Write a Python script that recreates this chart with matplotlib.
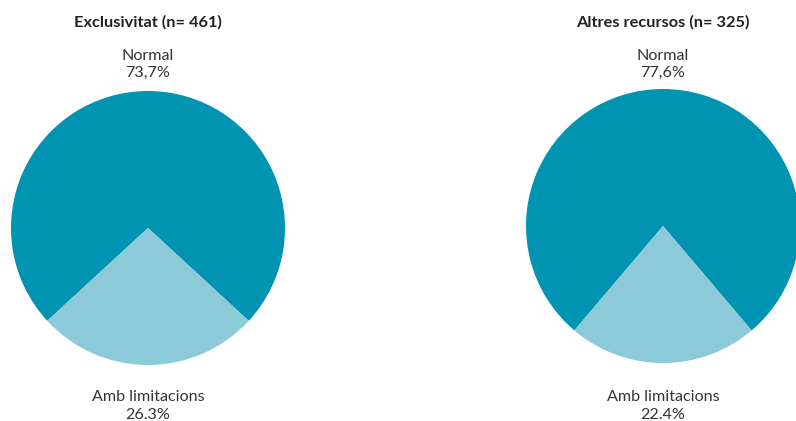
import matplotlib.pyplot as plt

plt.rcParams['font.family'] = ['Lato', 'DejaVu Sans']

titles = ["Exclusivitat (n= 461)", "Altres recursos (n= 325)"]
categories = ["Normal", "Amb limitacions"]
values = [[73.7, 26.3], [77.6, 22.4]]
# the reference mixes decimal comma and point
value_labels = [["73,7%", "26.3%"], ["77,6%", "22.4%"]]
colors = ["#0093b2", "#8cc9d9"]

W, H = 796, 421
fig = plt.figure(figsize=(W / 100, H / 100), dpi=100)

centers = [(148, 228), (663, 226)]
radius = 137

for i, (cx, cy) in enumerate(centers):
    ax = fig.add_axes([(cx - radius) / W, (H - cy - radius) / H,
                       2 * radius / W, 2 * radius / H])
    normal, limited = values[i]
    total = normal + limited
    # put the smaller slice centred at the bottom
    start = 270 - limited / total * 180 - normal / total * 360
    ax.pie(values[i], colors=colors, startangle=start, radius=1,
           wedgeprops=dict(linewidth=0))
    ax.set_xlim(-1, 1)
    ax.set_ylim(-1, 1)
    ax.set_aspect('auto')
    ax.axis('off')

    fig.text(cx / W, 1 - 22 / H, titles[i], ha='center', va='center',
             fontsize=11.8, fontweight='bold', color='#222222')
    fig.text(cx / W, 1 - 64.5 / H, f"{categories[0]}\n{value_labels[i][0]}",
             ha='center', va='center', fontsize=11.6, color='#333333',
             linespacing=1.3)
    fig.text(cx / W, 1 - 406 / H, f"{categories[1]}\n{value_labels[i][1]}",
             ha='center', va='center', fontsize=11.6, color='#333333',
             linespacing=1.3)

fig.savefig("out.png", dpi=100)
